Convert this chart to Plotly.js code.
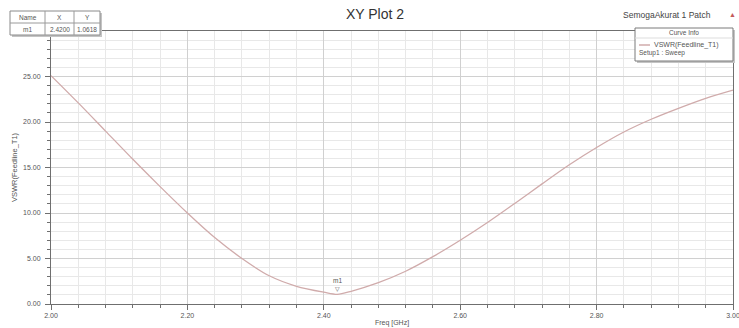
<!DOCTYPE html>
<html><head><meta charset="utf-8">
<script src="https://cdn.plot.ly/plotly-3.0.1.min.js"></script>
<style>html,body{margin:0;padding:0;background:#fff;} #chart{width:739px;height:328px;}</style>
</head><body><div id="chart"></div>
<script>
// ---- data ----
const freq = [2.00, 2.04, 2.08, 2.12, 2.16, 2.20, 2.24, 2.28, 2.32, 2.36, 2.40, 2.42, 2.44, 2.48, 2.52, 2.56, 2.60, 2.64, 2.68, 2.72, 2.76, 2.80, 2.84, 2.88, 2.92, 2.96, 3.00];
const vswr = [25.1, 22.1, 19.0, 15.9, 12.9, 10.0, 7.3, 5.0, 3.1, 1.95, 1.3, 1.0618, 1.4, 2.35, 3.6, 5.2, 7.0, 8.95, 11.05, 13.2, 15.3, 17.2, 18.9, 20.3, 21.5, 22.6, 23.5];
const markerName = ['m1'];
const markerX = [2.42];
const markerY = [1.0618];
const tableHeaders = ['Name', 'X', 'Y'];
const curveName = 'VSWR(Feedline_T1)';
const setupLabel = 'Setup1 : Sweep';
const projectName = 'SemogaAkurat 1 Patch';
const plotTitle = 'XY Plot 2';
const xTitle = 'Freq [GHz]';
const yTitle = 'VSWR(Feedline_T1)';
const xTickVals = [2.0, 2.2, 2.4, 2.6, 2.8, 3.0];
const yTickVals = [0, 5, 10, 15, 20, 25];

// ---- geometry helpers (pixel -> paper) ----
const W = 739, H = 328, L = 51, R = 6, T = 31, B = 24;
const pw = W - L - R, ph = H - T - B;
const px = x => (x - L) / pw;
const py = y => (H - B - y) / ph;

const curveColor = '#d0abab';
const txt = '#555';
const FONT = 'Liberation Sans, Arial, sans-serif';

const shapes = [];
const ann = [];
function rect(x0, y0, x1, y1, fill, line) {
  shapes.push({type: 'rect', xref: 'paper', yref: 'paper', x0: px(x0), x1: px(x1), y0: py(y0), y1: py(y1),
    fillcolor: fill, line: {color: line || fill, width: line ? 1 : 0}, layer: 'above'});
}
function seg(x0, y0, x1, y1, color, w) {
  shapes.push({type: 'line', xref: 'paper', yref: 'paper', x0: px(x0), x1: px(x1), y0: py(y0), y1: py(y1),
    line: {color: color, width: w || 1}, layer: 'above'});
}
function label(text, x, y, size, anchor, color) {
  ann.push({xref: 'paper', yref: 'paper', x: px(x), y: py(y), text: text, showarrow: false,
    xanchor: anchor || 'center', yanchor: 'middle', font: {family: FONT, size: size, color: color || txt}});
}

// marker table (top-left)
rect(12, 13, 102, 37, '#c4c4c4');
rect(10, 11, 100, 35, '#ffffff', '#8a8a8a');
seg(10, 23, 100, 23, '#9a9a9a');
seg(45, 11, 45, 35, '#9a9a9a');
seg(74, 11, 74, 35, '#9a9a9a');
const colC = [27.5, 59.5, 87];
tableHeaders.forEach((h, i) => label(h, colC[i], 17.5, 6.5));
markerName.forEach((n, r) => {
  label(n, colC[0], 29.5, 6.5);
  label(markerX[r].toFixed(4), colC[1], 29.5, 6.5);
  label(markerY[r].toFixed(4), colC[2], 29.5, 6.5);
});

// curve info box (top-right)
rect(637, 30, 735, 63, '#c4c4c4');
rect(635, 28, 733, 61, '#ffffff', '#7a7a7a');
seg(635, 38, 733, 38, '#dddddd');
label('Curve Info', 684, 33, 6.5);
seg(639, 45, 650, 45, curveColor, 1.5);
label(curveName, 652, 45, 7, 'left');
label(setupLabel, 637, 53, 6.5, 'left');

// project name + triangle
label(projectName, 713, 15, 8.5, 'right', '#444');
label('▲', 732, 14, 7, 'center', '#c45a5a');

// marker m1
markerName.forEach((n, r) => {
  ann.push({xref: 'x', yref: 'y', x: markerX[r], y: markerY[r], text: n, showarrow: false,
    yanchor: 'bottom', yshift: 8, font: {family: FONT, size: 6.5, color: txt}});
  ann.push({xref: 'x', yref: 'y', x: markerX[r], y: markerY[r], text: '▽', showarrow: false,
    yanchor: 'bottom', yshift: 0, font: {family: FONT, size: 6, color: txt}});
});

const trace = {x: freq, y: vswr, type: 'scatter', mode: 'lines',
  line: {color: curveColor, width: 1.3, shape: 'spline', smoothing: 0.8}, hoverinfo: 'skip'};

const axisCommon = {
  showline: true, linecolor: '#6f6f6f', linewidth: 1, mirror: true, zeroline: false,
  ticks: 'outside', ticklen: 5, tickcolor: '#6f6f6f', tickwidth: 1,
  showgrid: true, gridcolor: '#d0d0d0', gridwidth: 1, ticklabeloverflow: 'allow',
  tickfont: {family: FONT, size: 7, color: txt}, tickformat: '.2f'
};

const layout = {
  width: W, height: H,
  margin: {l: L, r: R, t: T, b: B, pad: 0},
  paper_bgcolor: '#ffffff', plot_bgcolor: '#ffffff',
  showlegend: false,
  title: {text: plotTitle, x: 375 / W, xanchor: 'center', y: 1 - 14 / H, yanchor: 'middle',
    font: {family: FONT, size: 14, color: '#333'}},
  xaxis: Object.assign({}, axisCommon, {
    range: [2, 3], tickvals: xTickVals,
    minor: {dtick: 0.04, showgrid: true, gridcolor: '#e8e8e8', ticks: 'outside', ticklen: 3, tickcolor: '#6f6f6f'},
    title: {text: xTitle, font: {family: FONT, size: 7, color: txt}, standoff: 1}
  }),
  yaxis: Object.assign({}, axisCommon, {
    range: [0, 30], tickvals: yTickVals,
    minor: {dtick: 1, showgrid: true, gridcolor: '#e8e8e8', ticks: 'outside', ticklen: 3, tickcolor: '#6f6f6f'},
    ticklabelstandoff: 3,
    title: {text: yTitle, font: {family: FONT, size: 7.5, color: txt}, standoff: 4}
  }),
  shapes: shapes,
  annotations: ann
};

Plotly.newPlot('chart', [trace], layout, {displayModeBar: false, staticPlot: true});
</script>
</body></html>
